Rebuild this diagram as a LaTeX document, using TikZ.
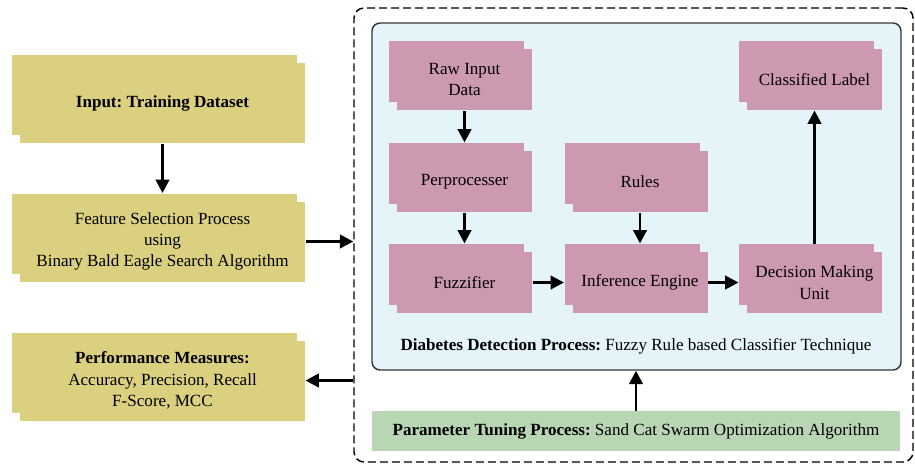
\documentclass[tikz,border=0pt]{standalone}
\usepackage{fontspec}
\setmainfont{Liberation Serif}
\usetikzlibrary{arrows.meta,shadows,calc}
\frenchspacing

\definecolor{boxyellow}{RGB}{218,208,127}
\definecolor{boxpink}{RGB}{204,153,177}
\definecolor{boxgreen}{RGB}{184,214,180}
\definecolor{panelblue}{RGB}{228,244,249}
\definecolor{panelline}{RGB}{55,55,55}

\tikzset{every picture/.style={line width=0.75pt}}
\tikzset{
  stackbox/.style={fill=#1, copy shadow={shadow xshift=-6pt, shadow yshift=6pt, fill=#1, draw=none}, align=center, inner sep=2pt},
  yellowbox/.style={stackbox=boxyellow, minimum width=213.75pt, minimum height=60pt},
  pinkbox/.style={stackbox=boxpink, minimum width=101.25pt, minimum height=45.75pt},
  outerbox/.style={draw, line width=1.1pt, dash pattern={on 6pt off 3pt}, rounded corners=7.5pt, minimum width=419.25pt, minimum height=340.5pt},
  panel/.style={draw=panelline, fill=panelblue, line width=1.1pt, rounded corners=6pt, minimum width=396.75pt, minimum height=260.25pt},
  tunebox/.style={fill=boxgreen, minimum width=396pt, minimum height=30pt},
  flow/.style={line width=2.1pt, -{Triangle[length=10pt,width=10pt]}},
}

\begin{document}
\begin{tikzpicture}[x=0.75pt,y=0.75pt,yscale=-1,xscale=1,font=\fontsize{12.8}{16}\selectfont]
	\useasboundingbox (0,0) rectangle (915,464);

	%Containers
	\node[outerbox] (outer) at (633.5,235) {};
	\node[panel] (panel) at (636.5,196.5) {};
	\node (panellabel) at (636,346) {\textbf{Diabetes Detection Process:} Fuzzy Rule based Classifier Technique};
	\node[tunebox] (tune) at (636,431) {\textbf{Parameter Tuning Process:} Sand Cat Swarm Optimization Algorithm};

	%Left column
	\node[yellowbox] (input) at (162.5,103) {\textbf{Input: Training Dataset}};
	\node[yellowbox] (feature) at (162.5,241.5) {Feature Selection Process\\using\\Binary Bald Eagle Search Algorithm};
	\node[yellowbox] (perf) at (162.5,380.5) {\textbf{Performance Measures:}\\Accuracy, Precision, Recall\\F-Score, MCC};

	%Fuzzy classifier blocks
	\node[pinkbox] (raw) at (464.5,79.5) {Raw Input\\Data};
	\node[pinkbox] (prep) at (464.5,181.5) {Perprocesser};
	\node[pinkbox] (fuzz) at (464.5,282.5) {Fuzzifier};
	\node[pinkbox] (rules) at (640,181.5) {Rules};
	\node[pinkbox] (infer) at (640,282.5) {Inference Engine};
	\node[pinkbox] (decide) at (814.5,282.5) {Decision Making\\Unit};
	\node[pinkbox] (label) at (814.5,79.5) {Classified Label};

	%Arrows (ending on the back sheet of a stacked box)
	\draw[flow] (input.south) -- ($(feature.north)+(0,-8)$);
	\draw[flow] (feature.east) -- (feature.east -| outer.west);
	\draw[flow] (perf.east -| outer.west) -- (perf.east);
	\draw[flow] (raw.south) -- ($(prep.north)+(0,-8)$);
	\draw[flow] (prep.south) -- ($(fuzz.north)+(0,-8)$);
	\draw[flow] (rules.south) -- ($(infer.north)+(0,-8)$);
	\draw[flow] (fuzz.east) -- ($(infer.west)+(-8,0)$);
	\draw[flow] (infer.east) -- ($(decide.west)+(-8,0)$);
	\draw[flow] ($(decide.north)+(0,-8)$) -- (label.south);
	\draw[flow] (tune.north) -- (tune.north |- panel.south);

\end{tikzpicture}
\end{document}
